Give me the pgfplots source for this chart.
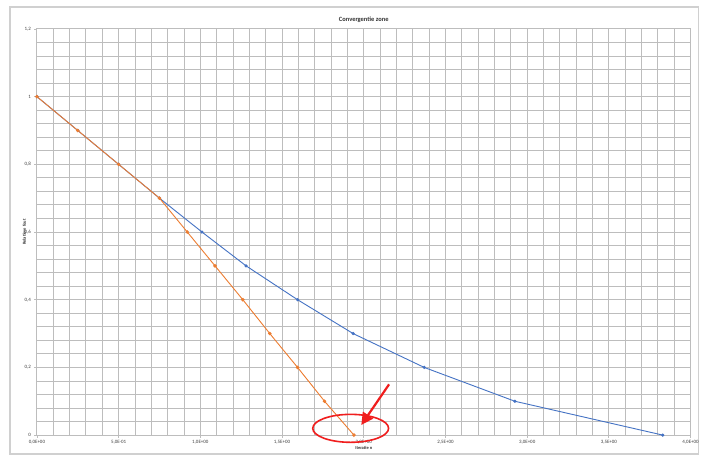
\documentclass[border=0pt]{standalone}
\usepackage{fontspec}
\setmainfont{Carlito}
\usepackage{pgfplots}
\pgfplotsset{compat=1.18}
\usetikzlibrary{arrows.meta}

\definecolor{seriesblue}{HTML}{4472C4}
\definecolor{seriesorange}{HTML}{ED7D31}
\definecolor{gridgray}{HTML}{BDBDBD}
\definecolor{framegray}{HTML}{D0D0D0}
\definecolor{annotred}{HTML}{F01E1E}

\begin{document}
\begin{tikzpicture}
% canvas and outer chart frame
\path[fill=white] (-37bp,-23bp) rectangle (665bp,436bp);
\draw[framegray, line width=1.2bp] (-27bp,-19bp) rectangle (663bp,429bp);
\begin{axis}[
  at={(0,0)}, anchor=south west,
  scale only axis,
  width=655bp, height=407bp,
  xmin=0, xmax=8, ymin=0, ymax=1.2,
  xtick={0,1,...,8},
  xticklabels={{0,0E+00},{5,0E-01},{1,0E+00},{1,5E+00},{2,0E+00},{2,5E+00},{3,0E+00},{3,5E+00},{4,0E+00}},
  ytick={0,0.2,0.4,0.6,0.8,1,1.2},
  yticklabels={0,{0,2},{0,4},{0,6},{0,8},1,{1,2}},
  minor x tick num=4, minor y tick num=4,
  grid=both,
  major grid style={gridgray, line width=0.9bp},
  minor grid style={gridgray, line width=0.9bp},
  axis line style={gridgray, line width=0.9bp},
  tick style={gridgray, line width=0.8bp},
  major tick length=2.5bp, minor tick length=0bp,
  tick align=outside,
  xtick pos=bottom, ytick pos=left,
  ticklabel style={font=\fontsize{5}{6}\selectfont, text=black!75},
  xticklabel style={yshift=1bp},
  title={Convergentie zone},
  title style={font=\fontsize{6.5}{8}\selectfont\bfseries, text=black!80, yshift=-3bp},
  xlabel={Iteratie n},
  xlabel style={font=\fontsize{4.5}{5}\selectfont\bfseries, text=black!80, yshift=4bp},
  ylabel={Relatieve fout},
  ylabel style={font=\fontsize{4.5}{5}\selectfont\bfseries, text=black!80, yshift=-8bp},
  clip=false,
]
% slower scheme
\addplot[seriesblue, line width=0.9bp, mark=*, mark size=1.1bp,
  mark options={fill=seriesblue, draw=seriesblue}] coordinates {
  (0,1.0) (0.5,0.9) (1,0.8) (1.5,0.7) (2.02,0.6) (2.56,0.5)
  (3.19,0.4) (3.87,0.3) (4.74,0.2) (5.85,0.1) (7.66,0.0)
};
% faster scheme
\addplot[seriesorange, line width=0.9bp, mark=*, mark size=1.3bp,
  mark options={fill=seriesorange, draw=seriesorange}] coordinates {
  (0,1.0) (0.5,0.9) (1,0.8) (1.5,0.7) (1.84,0.6) (2.18,0.5)
  (2.52,0.4) (2.85,0.3) (3.19,0.2) (3.52,0.1) (3.88,0.0)
};
% highlight where the fast scheme reaches zero
\draw[annotred, line width=1.6bp] (axis cs:3.84,0.02) ellipse [x radius=38bp, y radius=14bp];
\draw[annotred, line width=2.2bp, -{Triangle[length=12bp,width=12bp]}]
  (axis cs:4.31,0.15) -- (axis cs:3.97,0.03);
\end{axis}
\end{tikzpicture}
\end{document}
